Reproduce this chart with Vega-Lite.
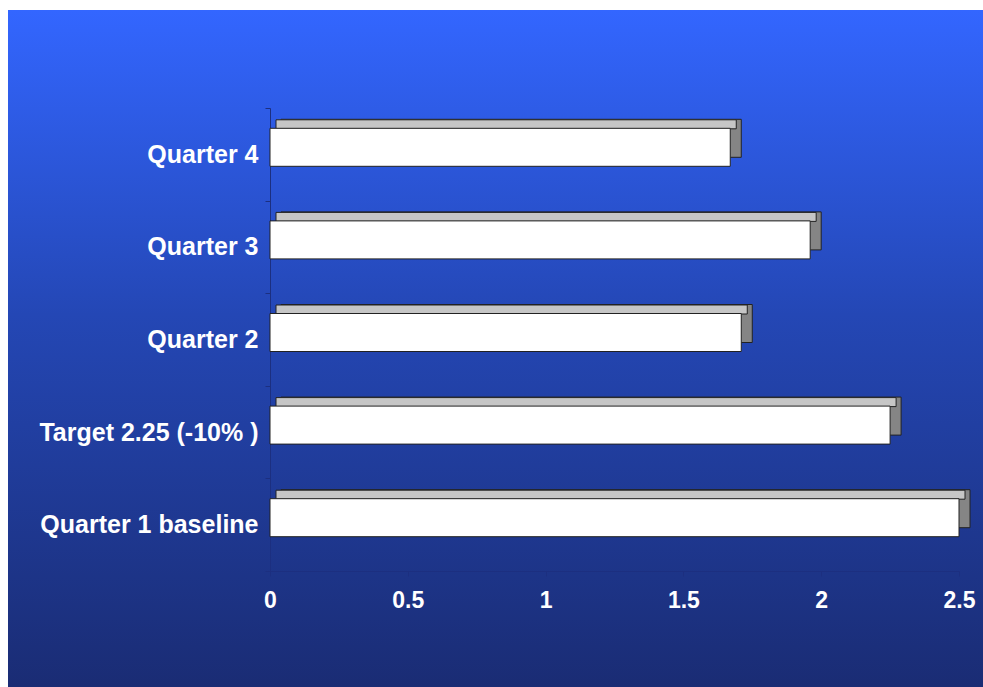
{
  "$schema": "https://vega.github.io/schema/vega-lite/v6.json",
  "autosize": "none",
  "padding": {"left": 8, "top": 10, "right": 0, "bottom": 0},
  "width": 975,
  "height": 677,
  "background": "white",
  "view": {
    "stroke": null,
    "fill": {
      "gradient": "linear",
      "x1": 0, "y1": 0, "x2": 0, "y2": 1,
      "stops": [
        {"offset": 0, "color": "#3366ff"},
        {"offset": 0.45, "color": "#2447b5"},
        {"offset": 1, "color": "#1a2c74"}
      ]
    }
  },
  "data": {
    "values": [
      {"category": "Quarter 4", "value": 1.67},
      {"category": "Quarter 3", "value": 1.96},
      {"category": "Quarter 2", "value": 1.71},
      {"category": "Target 2.25 (-10% )", "value": 2.25},
      {"category": "Quarter 1 baseline", "value": 2.5}
    ]
  },
  "encoding": {
    "y": {
      "field": "category",
      "type": "nominal",
      "sort": ["Quarter 4", "Quarter 3", "Quarter 2", "Target 2.25 (-10% )", "Quarter 1 baseline"],
      "scale": {"range": [98, 561], "paddingInner": 0, "paddingOuter": 0},
      "axis": {
        "title": null,
        "offset": -262,
        "domainColor": "#1c2f80",
        "tickColor": "#1c2f80",
        "tickBand": "extent",
        "tickSize": 5,
        "labelColor": "white",
        "labelFont": "Liberation Sans",
        "labelFontWeight": "bold",
        "labelFontSize": 25,
        "labelPadding": 7,
        "labelLimit": 400
      }
    },
    "x": {
      "field": "value",
      "type": "quantitative",
      "scale": {"domain": [0, 2.5], "range": [262, 951], "nice": false, "zero": true},
      "axis": {
        "title": null,
        "offset": -116,
        "values": [0, 0.5, 1, 1.5, 2, 2.5],
        "format": ".1~f",
        "grid": false,
        "domainColor": "#1c2f80",
        "tickColor": "#1c2f80",
        "tickSize": 5,
        "labelColor": "white",
        "labelFont": "Liberation Sans",
        "labelFontWeight": "bold",
        "labelFontSize": 23,
        "labelPadding": 13,
        "labelFlush": false
      }
    }
  },
  "layer": [
    {
      "mark": {"type": "bar", "color": "#858585", "stroke": "#222222", "strokeWidth": 1, "size": 38, "xOffset": 11, "yOffset": -16}
    },
    {
      "mark": {"type": "bar", "color": "#c6c6c6", "stroke": "#222222", "strokeWidth": 1, "size": 9, "xOffset": 6, "yOffset": -30}
    },
    {
      "mark": {"type": "bar", "color": "#ffffff", "stroke": "#222222", "strokeWidth": 1, "size": 38, "yOffset": -7}
    }
  ]
}
